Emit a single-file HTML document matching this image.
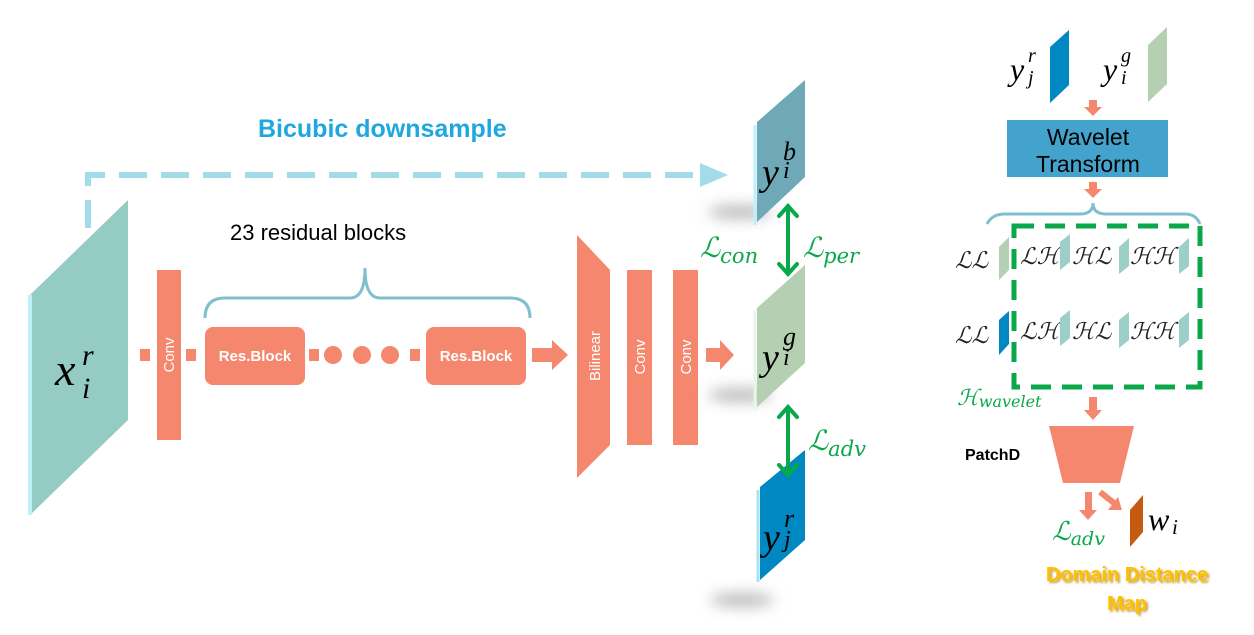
<!DOCTYPE html>
<html><head><meta charset="utf-8"><style>
body{margin:0;background:#fff}
svg{display:block}
.m{font-family:"Liberation Serif",serif;font-style:italic}
.s{font-family:"DejaVu Serif","Liberation Serif",serif;font-style:italic}
.sa{font-family:"Liberation Sans",sans-serif}
</style></head><body>
<svg width="1254" height="635" viewBox="0 0 1254 635" xmlns="http://www.w3.org/2000/svg">
<defs>
<filter id="b" x="-50%" y="-100%" width="200%" height="300%"><feGaussianBlur stdDeviation="7"/></filter>
<filter id="ts" x="-10%" y="-20%" width="120%" height="140%"><feGaussianBlur stdDeviation="1"/></filter>
</defs>
<!-- left slab -->
<polygon points="30,295 128,200 128,420 30,515" fill="#94cbc3"/>
<line x1="30" y1="295" x2="30" y2="515" stroke="#bfeff8" stroke-width="4"/>
<text x="55" y="385" class="m" font-size="46">x</text><text x="82" y="365" class="m" font-size="30">r</text><text x="82" y="398" class="m" font-size="30">i</text>
<!-- bicubic -->
<polyline points="88,228 88,175 700,175" fill="none" stroke="#a4dbe9" stroke-width="6" stroke-dasharray="28,14"/>
<polygon points="700,163 728,175 700,187" fill="#a4dbe9"/>
<text x="258" y="137" class="sa" font-size="25" font-weight="bold" fill="#1ea7e0">Bicubic downsample</text>
<!-- conv -->
<rect x="140" y="349" width="10" height="12" fill="#f4876e"/>
<rect x="157" y="270" width="24" height="170" fill="#f4876e"/>
<text transform="translate(174,355) rotate(-90)" text-anchor="middle" class="sa" font-size="15" fill="#fff">Conv</text>
<rect x="186" y="349" width="10" height="12" fill="#f4876e"/>
<text x="230" y="240" class="sa" font-size="22">23 residual blocks</text>
<path d="M205,318 Q205,298 225,298 L350,298 Q365,298 365,268 Q365,298 380,298 L510,298 Q530,298 530,318" fill="none" stroke="#7fbfd0" stroke-width="3"/>
<rect x="205" y="327" width="100" height="58" rx="8" fill="#f4876e"/>
<text x="255" y="361" text-anchor="middle" class="sa" font-size="15" font-weight="bold" fill="#fff">Res.Block</text>
<rect x="309" y="349" width="10" height="12" fill="#f4876e"/>
<circle cx="333" cy="355" r="9" fill="#f4876e"/><circle cx="362" cy="355" r="9" fill="#f4876e"/><circle cx="390" cy="355" r="9" fill="#f4876e"/>
<rect x="410" y="349" width="10" height="12" fill="#f4876e"/>
<rect x="426" y="327" width="100" height="58" rx="8" fill="#f4876e"/>
<text x="476" y="361" text-anchor="middle" class="sa" font-size="15" font-weight="bold" fill="#fff">Res.Block</text>
<polygon points="532,348 552,348 552,340 568,355 552,370 552,362 532,362" fill="#f4876e"/>
<polygon points="577,235 610,270 610,445 577,478" fill="#f4876e"/>
<text transform="translate(600,356) rotate(-90)" text-anchor="middle" class="sa" font-size="15" fill="#fff">Bilinear</text>
<rect x="627" y="270" width="25" height="175" fill="#f4876e"/>
<text transform="translate(645,357) rotate(-90)" text-anchor="middle" class="sa" font-size="15" fill="#fff">Conv</text>
<rect x="673" y="270" width="25" height="175" fill="#f4876e"/>
<text transform="translate(691,357) rotate(-90)" text-anchor="middle" class="sa" font-size="15" fill="#fff">Conv</text>
<polygon points="706,348 720,348 720,340 734,355 720,370 720,362 706,362" fill="#f4876e"/>
<!-- shadows -->
<ellipse cx="740" cy="212" rx="32" ry="7" fill="#bbb" filter="url(#b)"/>
<ellipse cx="740" cy="395" rx="32" ry="7" fill="#bbb" filter="url(#b)"/>
<ellipse cx="742" cy="600" rx="32" ry="7" fill="#bbb" filter="url(#b)"/>
<!-- right slabs -->
<polygon points="757,122 805,80 805,177 757,222" fill="#6fa9b8"/><line x1="755" y1="125" x2="755" y2="225" stroke="#bfeff8" stroke-width="3"/>
<text x="762" y="185" class="m" font-size="38">y</text><text x="783" y="160" class="m" font-size="26">b</text><text x="783" y="178" class="m" font-size="24">i</text>
<polygon points="757,308 805,265 805,363 757,407" fill="#b4cfb2"/><line x1="755" y1="310" x2="755" y2="410" stroke="#e8f5e8" stroke-width="3"/>
<text x="762" y="370" class="m" font-size="38">y</text><text x="783" y="345" class="m" font-size="26">g</text><text x="783" y="365" class="m" font-size="24">i</text>
<polygon points="760,487 805,450 805,540 760,580" fill="#0088c2"/><line x1="758" y1="490" x2="758" y2="582" stroke="#a8e2f5" stroke-width="3"/>
<text x="763" y="550" class="m" font-size="38">y</text><text x="784" y="527" class="m" font-size="26">r</text><text x="784" y="547" class="m" font-size="24">j</text>
<!-- green arrows -->
<g stroke="#0aa84a" stroke-width="4" fill="none" stroke-linecap="round">
<line x1="788" y1="206" x2="788" y2="274"/><polyline points="779,216 788,206 797,216"/><polyline points="779,264 788,274 797,264"/>
<line x1="788" y1="407" x2="788" y2="475"/><polyline points="779,417 788,407 797,417"/><polyline points="779,465 788,475 797,465"/>
</g>
<text x="700" y="257" class="s" font-size="28" fill="#0aa84a">ℒ<tspan font-size="21" dy="6">con</tspan></text>
<text x="803" y="257" class="s" font-size="28" fill="#0aa84a">ℒ<tspan font-size="21" dy="6">per</tspan></text>
<text x="808" y="450" class="s" font-size="28" fill="#0aa84a">ℒ<tspan font-size="21" dy="6">adv</tspan></text>
<!-- right panel -->
<text x="1010" y="80" class="m" font-size="32">y</text><text x="1028" y="62" class="m" font-size="20">r</text><text x="1028" y="84" class="m" font-size="20">j</text>
<polygon points="1050,47 1069,30 1069,85 1050,103" fill="#0088c2"/>
<text x="1103" y="80" class="m" font-size="32">y</text><text x="1121" y="62" class="m" font-size="20">g</text><text x="1121" y="84" class="m" font-size="20">i</text>
<polygon points="1148,45 1167,27 1167,84 1148,102" fill="#b4cfb2"/>
<polygon points="1089,100 1097,100 1097,107 1102,107 1093,116 1084,107 1089,107" fill="#f4876e"/>
<rect x="1007" y="120" width="161" height="57" fill="#44a3cc"/>
<text x="1088" y="145" text-anchor="middle" class="sa" font-size="23">Wavelet</text>
<text x="1088" y="172" text-anchor="middle" class="sa" font-size="23">Transform</text>
<polygon points="1089,182 1097,182 1097,189 1102,189 1093,198 1084,189 1089,189" fill="#f4876e"/>
<path d="M987,224 Q992,214 1005,214 L1080,214 Q1093,214 1093,203 Q1093,214 1106,214 L1185,214 Q1196,214 1200,224" fill="none" stroke="#7fbfd0" stroke-width="3"/>
<rect x="1014" y="226" width="186" height="161" fill="none" stroke="#0aa84a" stroke-width="5" stroke-dasharray="20,11"/>
<g class="s" font-size="23" fill="#222">
<text x="955" y="268">ℒℒ</text><text x="1020" y="264">ℒℋ</text><text x="1072" y="264">ℋℒ</text><text x="1130" y="264">ℋℋ</text>
<text x="955" y="343">ℒℒ</text><text x="1020" y="339">ℒℋ</text><text x="1072" y="339">ℋℒ</text><text x="1130" y="339">ℋℋ</text>
</g>
<g fill="#9ccfc8">
<polygon points="999,247 1009,237 1009,270 999,280" fill="#b4cfb2"/>
<polygon points="1060,242 1070,234 1070,262 1060,270"/><polygon points="1119,247 1129,238 1129,266 1119,274"/><polygon points="1179,247 1189,238 1189,266 1179,274"/>
<polygon points="999,320 1009,311 1009,344 999,355" fill="#0088c2"/>
<polygon points="1060,318 1070,310 1070,338 1060,346"/><polygon points="1119,320 1129,312 1129,340 1119,348"/><polygon points="1179,320 1189,312 1189,340 1179,348"/>
</g>
<text x="957" y="405" class="s" font-size="22" fill="#0aa84a">ℋ<tspan font-size="16" dy="2">wavelet</tspan></text>
<polygon points="1089,397 1097,397 1097,410 1102,410 1093,420 1084,410 1089,410" fill="#f4876e"/>
<polygon points="1049,426 1134,426 1120,483 1063,483" fill="#f4876e"/>
<text x="965" y="460" class="sa" font-size="16" font-weight="bold">PatchD</text>
<polygon points="1085,492 1092,492 1092,510 1097,510 1088,520 1079,510 1085,510" fill="#f4876e"/>
<line x1="1100" y1="492" x2="1114" y2="503" stroke="#f4876e" stroke-width="6"/><polygon points="1108,510 1122,510 1118,497" fill="#f4876e"/>
<text x="1052" y="540" class="s" font-size="26" fill="#0aa84a">ℒ<tspan font-size="19" dy="5">adv</tspan></text>
<polygon points="1130,510 1143,495 1143,532 1130,547" fill="#c55a11"/>
<text x="1148" y="530" class="m" font-size="32">w</text><text x="1172" y="534" class="m" font-size="21">i</text>
<g class="sa" font-size="20" font-weight="bold" text-anchor="middle">
<text x="1129" y="583" fill="#c8a040" filter="url(#ts)">Domain Distance</text>
<text x="1129" y="612" fill="#c8a040" filter="url(#ts)">Map</text>
<text x="1127" y="581" fill="#ffc000">Domain Distance</text>
<text x="1127" y="610" fill="#ffc000">Map</text>
</g>
</svg>
</body></html>
